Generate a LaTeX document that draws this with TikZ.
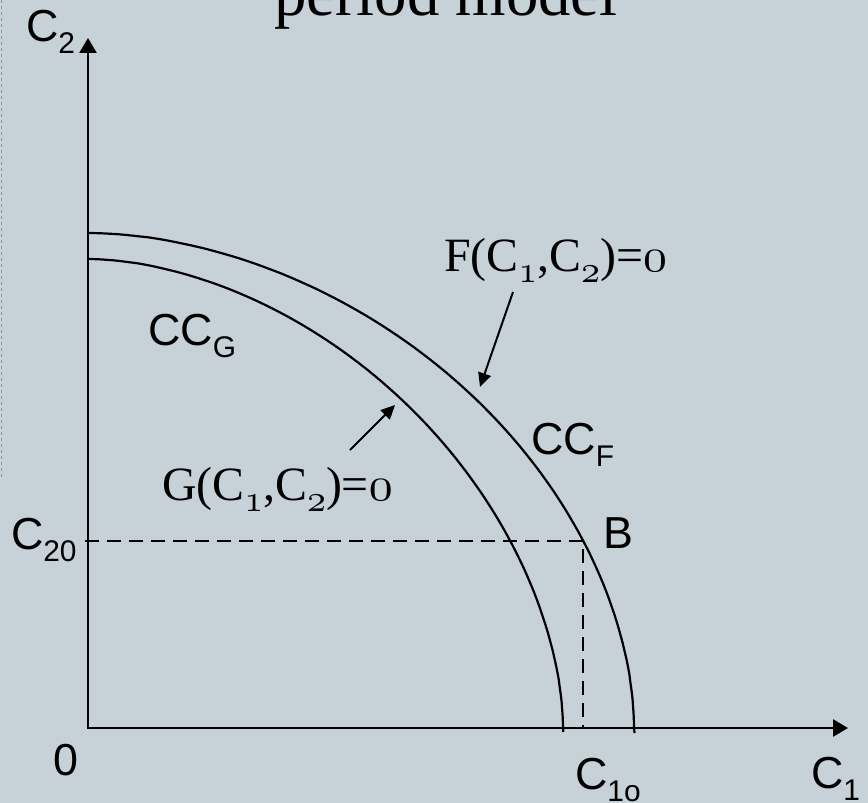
\documentclass[tikz,border=0pt]{standalone}
\usepackage{fontspec}
\usepackage{graphicx}
\setmainfont{Liberation Serif}
\newfontfamily\arialf{Liberation Sans}
\usetikzlibrary{arrows.meta}
\definecolor{bgc}{RGB}{198,209,216}
\definecolor{bordc}{RGB}{140,148,180}
% old-style digits from Computer Modern math italic, scaled from 10pt
\newcommand\osn[2]{\scalebox{#1}{\fontsize{10}{12}\usefont{OML}{cmm}{m}{it}#2}}
\newcommand\sanslab[2]{{\arialf\fontsize{45}{50}\selectfont #1\raisebox{-12bp}{\fontsize{30}{32}\selectfont #2}}}
\newcommand\serlab[1]{{\fontsize{48}{52}\selectfont #1(C\raisebox{-11bp}{\osn{3.8}{1}},C\raisebox{-11bp}{\osn{3.8}{2}})=\osn{4.8}{0}}}
\tikzset{
  axisline/.style={line width=2.6bp, {Triangle[length=15bp,width=17bp]}-{Triangle[length=15bp,width=17bp]}},
  curveline/.style={line width=2.2bp},
  dashline/.style={line width=2bp, dash pattern=on 14bp off 8bp},
  ptr/.style={line width=2bp, -{Triangle[length=14bp,width=13bp]}},
  lab/.style={anchor=base west, inner sep=0pt, outer sep=0pt}
}
\begin{document}
\begin{tikzpicture}[x=1bp,y=-1bp]
\fill[bgc] (0,0) rectangle (868,803);
\useasboundingbox (0,0) rectangle (868,803);
\draw[bordc, line width=1.5bp, dash pattern=on 3bp off 3bp] (1.5,0) -- (1.5,480);

% axes
\coordinate (O) at (88,728);
\coordinate (Ytip) at (88,38);
\coordinate (Xtip) at (848,728);
\draw[axisline] (Ytip) -- (O) -- (Xtip);

% curves
\coordinate (F0) at (88,233);
\coordinate (F1) at (634.5,733);
\draw[curveline] (F0) -- plot[domain=89.8:0.2,samples=90,smooth] ({88+546*pow(cos(\x),1.081)},{728-495*pow(sin(\x),1.081)}) -- (F1);
\coordinate (G0) at (88,259);
\coordinate (G1) at (563.3,732);
\draw[curveline] (G0) -- plot[domain=89.8:0.2,samples=90,smooth] ({88+475*pow(cos(\x),1.111)},{728-469*pow(sin(\x),1.111)}) -- (G1);

% dashed lines to B
\coordinate (Bpt) at (583,541);
\coordinate (C20mark) at (85,541);
\coordinate (C1mark) at (583,727);
\draw[dashline] (C20mark) -- (Bpt) -- (C1mark);

% labels
\node[lab] (title) at (274,16) {\fontsize{65}{70}\selectfont period model};
\node[lab] (c2) at (26,42) {\sanslab{C}{2}};
\node[lab] (c20) at (11,549) {\sanslab{C}{20}};
\node[lab] (zero) at (53,775) {\arialf\fontsize{45}{50}\selectfont 0};
\node[lab] (c1o) at (575,789) {\sanslab{C}{1o}};
\node[lab] (c1) at (811,788) {\sanslab{C}{1}};
\node[lab] (Blab) at (603,548) {\arialf\fontsize{45}{50}\selectfont B};
\node[lab] (ccg) at (148,345) {\sanslab{CC}{G}};
\node[lab] (ccf) at (531,454) {\sanslab{CC}{F}};
\node[lab] (flab) at (444,271) {\serlab{F}};
\node[lab] (glab) at (162,500) {\serlab{G}};

% pointer arrows
\coordinate (Fs) at (513,292);
\coordinate (Ft) at (480,387);
\draw[ptr] (Fs) -- (Ft);
\coordinate (Gs) at (350,450);
\coordinate (Gt) at (395,405);
\draw[ptr] (Gs) -- (Gt);
\end{tikzpicture}
\end{document}
